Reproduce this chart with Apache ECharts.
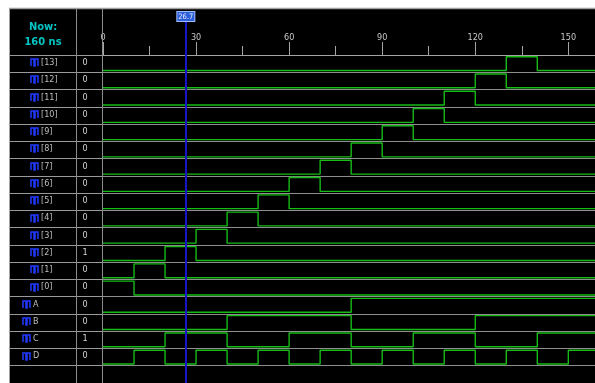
<!DOCTYPE html>
<html><head><meta charset="utf-8">
<script src="https://cdn.jsdelivr.net/npm/echarts@6/dist/echarts.min.js"></script>
<style>html,body{margin:0;padding:0;background:#fff}#c{width:595px;height:383px}</style>
</head><body><div id="c"></div>
<script>
// ---- data ----
const signals = ['[13]','[12]','[11]','[10]','[9]','[8]','[7]','[6]','[5]','[4]','[3]','[2]','[1]','[0]','A','B','C','D'];
const cursorValues = ['0','0','0','0','0','0','0','0','0','0','0','1','0','0','0','0','1','0'];
const segStart = [0,10,20,30,40,50,60,70,80,90,100,110,120,130,140,150];
const simEnd = 160;
const viewEnd = 158.6;
const tickLabels = [0,30,60,90,120,150];
const cursorTime = 26.7;
const nowText = ['Now:', '160 ns'];
// decoder outputs [13]..[0], one level per 10 ns segment
const decoderOut = [
  [0,0,0,0,0,0,0,0,0,0,0,0,0,1,0,0],
  [0,0,0,0,0,0,0,0,0,0,0,0,1,0,0,0],
  [0,0,0,0,0,0,0,0,0,0,0,1,0,0,0,0],
  [0,0,0,0,0,0,0,0,0,0,1,0,0,0,0,0],
  [0,0,0,0,0,0,0,0,0,1,0,0,0,0,0,0],
  [0,0,0,0,0,0,0,0,1,0,0,0,0,0,0,0],
  [0,0,0,0,0,0,0,1,0,0,0,0,0,0,0,0],
  [0,0,0,0,0,0,1,0,0,0,0,0,0,0,0,0],
  [0,0,0,0,0,1,0,0,0,0,0,0,0,0,0,0],
  [0,0,0,0,1,0,0,0,0,0,0,0,0,0,0,0],
  [0,0,0,1,0,0,0,0,0,0,0,0,0,0,0,0],
  [0,0,1,0,0,0,0,0,0,0,0,0,0,0,0,0],
  [0,1,0,0,0,0,0,0,0,0,0,0,0,0,0,0],
  [1,0,0,0,0,0,0,0,0,0,0,0,0,0,0,0]
];
const sigA = [0,0,0,0,0,0,0,0,1,1,1,1,1,1,1,1];
const sigB = [0,0,0,0,1,1,1,1,0,0,0,0,1,1,1,1];
const sigC = [0,0,1,1,0,0,1,1,0,0,1,1,0,0,1,1];
const sigD = [0,1,0,1,0,1,0,1,0,1,0,1,0,1,0,1];

// ---- build ----
const FONT = "'Liberation Sans Narrow','DejaVu Sans Condensed','Liberation Sans',Arial,sans-serif";
const HI = 0.1, LO = 0.9;
const allWaves = decoderOut.concat([sigA, sigB, sigC, sigD]);
const rows = signals.length + 1; // one blank row at the bottom

const lineSeries = allWaves.map((w, row) => {
  const lvl = v => row + (v ? HI : LO);
  const data = segStart.map((t, i) => [t, lvl(w[i])]);
  data.push([simEnd, lvl(w[w.length - 1])]);
  return {
    type: 'line', xAxisIndex: 0, yAxisIndex: 0, step: 'end', symbol: 'none',
    silent: true, animation: false,
    lineStyle: { color: '#16bb16', width: 1.4 },
    data
  };
});
lineSeries[0].markLine = {
  symbol: ['none', 'none'], silent: true, animation: false,
  label: { show: false },
  lineStyle: { color: '#1616c8', width: 2, type: 'solid' },
  data: [{ xAxis: cursorTime }]
};

const headerCursor = {
  type: 'line', xAxisIndex: 1, yAxisIndex: 1, symbol: 'none', silent: true, animation: false,
  data: [[cursorTime, 0]],
  lineStyle: { opacity: 0 },
  markLine: {
    symbol: ['none', 'none'], silent: true, animation: false,
    lineStyle: { color: '#1616c8', width: 2, type: 'solid' },
    label: {
      show: true, position: 'end', distance: 0,
      formatter: String(cursorTime),
      backgroundColor: '#2d5fd8', borderColor: '#a0bcff', borderWidth: 1,
      padding: [1, 1, 0, 1], color: '#e4ecff', fontSize: 7.5, fontFamily: FONT
    },
    data: [{ xAxis: cursorTime }]
  }
};

const namePanel = {
  type: 'custom', xAxisIndex: 2, yAxisIndex: 2, silent: true, animation: false,
  data: signals.map((s, i) => [0, i]),
  renderItem: (params, api) => {
    const i = params.dataIndex;
    const row = api.value(1);
    const name = signals[i];
    const bus = name.charAt(0) === '[';
    const c = api.coord([0, row + 0.5]);
    const cy = c[1] - 1;
    const ix = Math.round(c[0] + (bus ? 21 : 13));
    const tx = c[0] + (bus ? 31 : 23);
    const top = Math.round(cy - 3.5), bot = top + 7;
    const pts = [[ix, bot], [ix, top], [ix + 3, top], [ix + 3, bot], [ix + 4, bot],
                 [ix + 4, top], [ix + 7, top], [ix + 7, bot]];
    return {
      type: 'group',
      children: [
        { type: 'polyline', shape: { points: pts }, style: { stroke: '#2038ff', lineWidth: 1.5, fill: null } },
        { type: 'text', style: { text: name, x: tx, y: cy, fill: '#bdbdbd', fontSize: 9, fontFamily: FONT, align: 'left', verticalAlign: 'middle' } },
        { type: 'text', style: { text: cursorValues[i], x: c[0] + 75, y: cy, fill: '#d6d6d6', fontSize: 9, fontFamily: FONT, align: 'center', verticalAlign: 'middle' } }
      ]
    };
  }
};

const chart = echarts.init(document.getElementById('c'), null, { renderer: 'canvas' });
chart.setOption({
  backgroundColor: '#000',
  animation: false,
  grid: [
    { left: 103, right: 0, top: 55, bottom: 0 },
    { left: 103, right: 0, top: 21, height: 34 },
    { left: 10, width: 93, top: 55, bottom: 0 }
  ],
  xAxis: [
    {
      gridIndex: 0, type: 'value', position: 'top', min: tickLabels[0], max: viewEnd,
      interval: tickLabels[1] - tickLabels[0],
      axisLine: { show: true, onZero: false, lineStyle: { color: '#a4a4a4', width: 1 } },
      axisTick: { show: true, length: 13, lineStyle: { color: '#a4a4a4' } },
      minorTick: { show: true, splitNumber: 2, length: 9, lineStyle: { color: '#a4a4a4' } },
      axisLabel: { show: true, margin: 13, color: '#c8c8c8', fontSize: 9, fontFamily: FONT, showMaxLabel: false },
      splitLine: { show: false }
    },
    { gridIndex: 1, type: 'value', min: 0, max: viewEnd, show: false },
    { gridIndex: 2, type: 'value', min: 0, max: 93, show: false }
  ],
  yAxis: [
    {
      gridIndex: 0, type: 'value', min: 0, max: rows, interval: 1, inverse: true,
      axisLine: { show: false }, axisTick: { show: false }, axisLabel: { show: false },
      splitLine: { show: true, lineStyle: { color: '#8e8e8e', width: 1 } }
    },
    { gridIndex: 1, type: 'value', min: 0, max: 1, show: false },
    {
      gridIndex: 2, type: 'value', min: 0, max: rows, interval: 1, inverse: true,
      axisLine: { show: false }, axisTick: { show: false }, axisLabel: { show: false },
      splitLine: { show: true, lineStyle: { color: '#9a9a9a', width: 1 } }
    }
  ],
  graphic: [
    { type: 'rect', shape: { x: 0, y: 0, width: 595, height: 8 }, style: { fill: '#ffffff' }, z: 100 },
    { type: 'rect', shape: { x: 0, y: 0, width: 9, height: 383 }, style: { fill: '#ffffff' }, z: 100 },
    { type: 'line', shape: { x1: 9, y1: 8.5, x2: 595, y2: 8.5 }, style: { stroke: '#a0a0a0', lineWidth: 1.5 }, z: 100 },
    { type: 'line', shape: { x1: 9.5, y1: 8, x2: 9.5, y2: 383 }, style: { stroke: '#a0a0a0', lineWidth: 1 }, z: 100 },
    { type: 'line', shape: { x1: 76.5, y1: 9, x2: 76.5, y2: 383 }, style: { stroke: '#8c8c8c', lineWidth: 1 }, z: 100 },
    { type: 'line', shape: { x1: 102.5, y1: 9, x2: 102.5, y2: 383 }, style: { stroke: '#8c8c8c', lineWidth: 1 }, z: 100 },
    { type: 'text', style: { text: nowText[0], x: 43, y: 27, fill: '#00c4c4', fontSize: 11, fontWeight: 'bold', fontFamily: FONT, align: 'center', verticalAlign: 'middle' }, z: 100 },
    { type: 'text', style: { text: nowText[1], x: 43, y: 42, fill: '#00c4c4', fontSize: 11, fontWeight: 'bold', fontFamily: FONT, align: 'center', verticalAlign: 'middle' }, z: 100 }
  ],
  series: lineSeries.concat([headerCursor, namePanel])
});
</script></body></html>
